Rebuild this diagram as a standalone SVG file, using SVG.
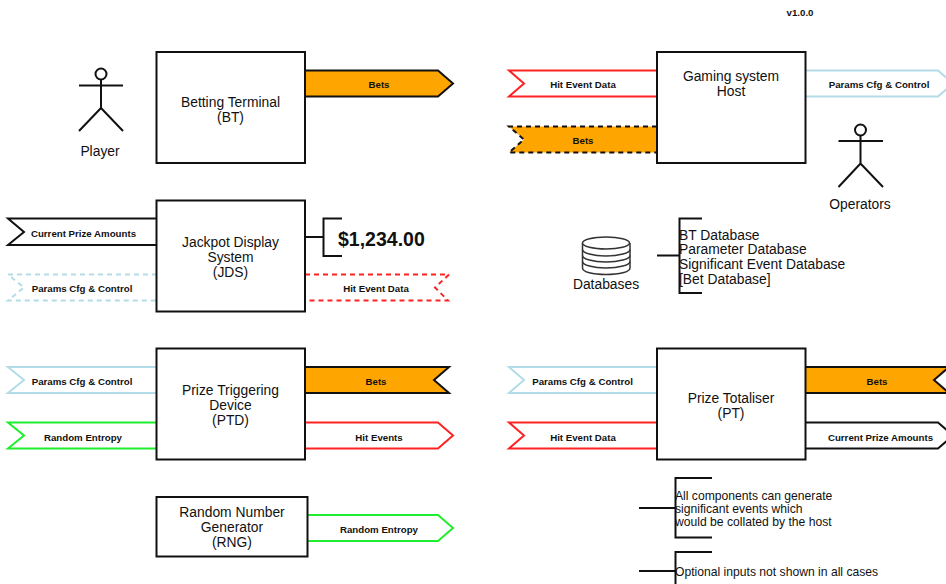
<svg xmlns="http://www.w3.org/2000/svg" width="946" height="584" viewBox="0 0 946 584">
<style>
text{font-family:"Liberation Sans",Arial,sans-serif;fill:#111}
.n{font-size:13.850px;text-anchor:middle}
.l{font-size:9.700px;font-weight:bold;text-anchor:middle}
.t{font-size:13.850px}
.s{font-size:12.150px}
.box{fill:#fff;stroke:#111;stroke-width:2}
.ln{fill:none;stroke:#111;stroke-width:2}
.a{fill:#fff;stroke-width:2}
.k{stroke:#111}.r{stroke:#f22}.g{stroke:#1fee2f}.b{stroke:#b4dbe8}
.o{fill:#ffa500}
.d{stroke-dasharray:5 4}
</style>
<rect width="946" height="584" fill="#fff"/>
<text class="l" x="800" y="16">v1.0.0</text>
<g id="connectors">
<polygon class="a o k" points="305,70.500 438,70.500 453,83.500 438,96.500 305,96.500"/>
<text class="l" x="379" y="88">Bets</text>
<polygon class="a r" points="657,70.500 509,70.500 524,83.500 509,96.500 657,96.500"/>
<text class="l" x="583" y="88">Hit Event Data</text>
<polygon class="a o k d" points="657,126.500 509,126.500 524,139.500 509,152.500 657,152.500"/>
<text class="l" x="583" y="144">Bets</text>
<polygon class="a b" points="805,70.500 938,70.500 953,83.500 938,96.500 805,96.500"/>
<text class="l" x="879" y="88">Params Cfg &amp; Control</text>
<polygon class="a k" points="157,218.500 8,218.500 24,232 8,245 157,245"/>
<text class="l" x="83.500" y="236.500">Current Prize Amounts</text>
<polygon class="a b d" points="157,274.500 8,274.500 24,287.500 8,300.500 157,300.500"/>
<text class="l" x="82" y="292">Params Cfg &amp; Control</text>
<polygon class="a r d" points="305,274.500 449,274.500 435,287.500 448,300.500 305,300.500"/>
<text class="l" x="376" y="292">Hit Event Data</text>
<polygon class="a b" points="157,367 8,367 24,380 8,393 157,393"/>
<text class="l" x="82" y="385">Params Cfg &amp; Control</text>
<polygon class="a g" points="157,422.500 8,422.500 24,435.500 8,448.500 157,448.500"/>
<text class="l" x="83" y="441">Random Entropy</text>
<polygon class="a o k" points="305,367 449,367 434,380 449,393 305,393"/>
<text class="l" x="376" y="385">Bets</text>
<polygon class="a r" points="305,422.500 438,422.500 453,435.500 438,448.500 305,448.500"/>
<text class="l" x="379" y="441">Hit Events</text>
<polygon class="a g" points="307,515 438,515 453,528 438,541 307,541"/>
<text class="l" x="379" y="533">Random Entropy</text>
<polygon class="a b" points="657,367 509,367 524,380 509,393 657,393"/>
<text class="l" x="582.500" y="385">Params Cfg &amp; Control</text>
<polygon class="a r" points="657,422.500 509,422.500 524,435.500 509,448.500 657,448.500"/>
<text class="l" x="583" y="441">Hit Event Data</text>
<polygon class="a o k" points="805,367 949,367 934,380 949,393 805,393"/>
<text class="l" x="877" y="385">Bets</text>
<polygon class="a k" points="805,422.500 938,422.500 953,435.500 938,448.500 805,448.500"/>
<text class="l" x="880.500" y="441">Current Prize Amounts</text>
<path class="ln" d="M305 237H323.500M342 218.500H323.500V256H342"/>
<path class="ln" d="M657 255.500H679.500M702 218.500H679.500V293H702"/>
<path class="ln" d="M639 508H675.500M712 478H675.500V537.500H712"/>
<path class="ln" d="M639 571H675.500M712 552H675.500V592"/>
</g>
<g id="bt"><rect class="box" x="156.500" y="52" width="148.500" height="111"/><text class="n" x="230.500" y="106.500">Betting Terminal</text><text class="n" x="230.500" y="121.500">(BT)</text></g>
<g id="host"><rect class="box" x="657" y="52" width="148.500" height="111"/><text class="n" x="731" y="81">Gaming system</text><text class="n" x="731" y="95.500">Host</text></g>
<g id="jds"><rect class="box" x="156.500" y="200.500" width="148.500" height="111"/><text class="n" x="230.500" y="247">Jackpot Display</text><text class="n" x="230.500" y="261.500">System</text><text class="n" x="230.500" y="276.500">(JDS)</text></g>
<g id="ptd"><rect class="box" x="156.500" y="348.500" width="148.500" height="111"/><text class="n" x="230.500" y="395">Prize Triggering</text><text class="n" x="230.500" y="410">Device</text><text class="n" x="230.500" y="425">(PTD)</text></g>
<g id="pt"><rect class="box" x="657" y="348.500" width="148.500" height="111"/><text class="n" x="731" y="402.500">Prize Totaliser</text><text class="n" x="731" y="417.500">(PT)</text></g>
<g id="rng"><rect class="box" x="156.500" y="497" width="151" height="59.500"/><text class="n" x="232" y="517">Random Number</text><text class="n" x="232" y="532">Generator</text><text class="n" x="232" y="547">(RNG)</text></g>
<g id="player"><circle class="ln" cx="101" cy="74" r="5.500"/><path class="ln" d="M79 85.500H123M101 79.500V108M79 131L101 108L123 131"/><text class="n" x="100" y="156">Player</text></g>
<g id="operators"><circle class="ln" cx="860.500" cy="130" r="5.500"/><path class="ln" d="M838.500 141H883M860.500 135.500V163.500M838.500 187L860.500 163.500L883 187"/><text class="n" x="860" y="209">Operators</text></g>
<g id="databases"><path d="M582.500 243V268C582.500 272 593 274.500 606 274.500S630 272 630 268V243" fill="#fff" stroke="#333" stroke-width="1.500"/><ellipse cx="606" cy="243" rx="23.500" ry="6" fill="#fff" stroke="#333" stroke-width="1.500"/><path d="M582.500 249.500C582.500 253 593 256 606 256S630 253 630 249.500M582.500 255.500C582.500 259 593 262 606 262S630 259 630 255.500M582.500 261.500C582.500 265 593 268 606 268S630 265 630 261.500" fill="none" stroke="#333" stroke-width="1.500"/><text class="n" x="606" y="289">Databases</text></g>
<g id="value"><text x="338" y="246" font-size="19.500" font-weight="bold">$1,234.00</text></g>
<g id="db-list"><text class="t" x="679" y="239.500">BT Database</text><text class="t" x="679" y="254">Parameter Database</text><text class="t" x="679" y="269">Significant Event Database</text><text class="t" x="679" y="284">[Bet Database]</text></g>
<g id="notes"><text class="s" x="675" y="500">All components can generate</text><text class="s" x="675" y="513">significant events which</text><text class="s" x="675" y="526">would be collated by the host</text><text class="s" x="675" y="576">Optional inputs not shown in all cases</text></g>
</svg>
